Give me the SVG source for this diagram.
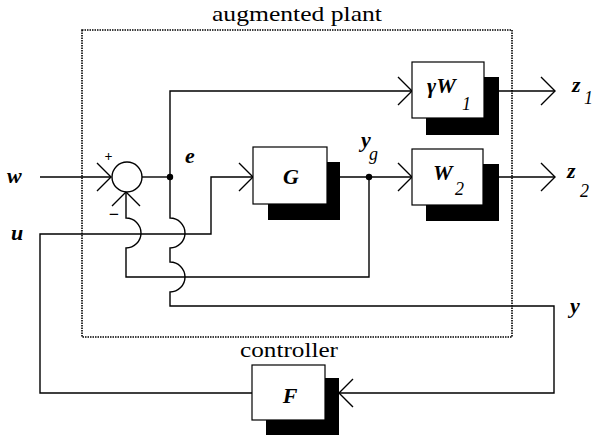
<svg xmlns="http://www.w3.org/2000/svg" width="593" height="439" viewBox="0 0 593 439">
<style>
  .ln{fill:none;stroke:#000;stroke-width:1.4}
  .box{fill:#fff;stroke:#000;stroke-width:1.2}
  .sh{fill:#000}
  text{font-family:'Liberation Serif','DejaVu Serif',serif;fill:#000}
  .lab{font-size:22px}
  .v{font-style:italic;font-weight:bold;font-size:22px}
  .sub{font-style:italic;font-size:18px}
</style>
<defs>
  <marker id="arr" viewBox="-16 -16 32 32" refX="0" refY="0" markerWidth="32" markerHeight="32" markerUnits="userSpaceOnUse" orient="auto" overflow="visible">
    <path d="M-14,-14 L0,0 L-14,14" fill="none" stroke="#000" stroke-width="1.4"/>
  </marker>
</defs>
<rect width="593" height="439" fill="#fff"/>

<g id="plant">
  <rect x="82" y="30" width="430" height="307" fill="none" stroke="#000" stroke-width="1.6" stroke-dasharray="1.5,1"/>
  <text class="lab" x="212" y="21" textLength="170" lengthAdjust="spacingAndGlyphs">augmented plant</text>
</g>

<g id="connectors">
  <path class="ln" d="M40,177 H111" marker-end="url(#arr)"/>
  <path class="ln" d="M142,177 H170"/>
  <path class="ln" d="M170,177 V91 H412" marker-end="url(#arr)"/>
  <path class="ln" d="M170,177 V218 a15,15 0 0 1 0,30 V262 a15,15 0 0 1 0,30 V306 H554 V393 H339" marker-end="url(#arr)"/>
  <path class="ln" d="M369,177 V277 H126 V248 a15,15 0 0 0 0,-30 V192" marker-end="url(#arr)"/>
  <path class="ln" d="M252,393 H40 V234 H211 V177 H253" marker-end="url(#arr)"/>
  <path class="ln" d="M340,177 H412" marker-end="url(#arr)"/>
  <path class="ln" d="M499,91 H555" marker-end="url(#arr)"/>
  <path class="ln" d="M499,177 H555" marker-end="url(#arr)"/>
  <circle cx="170" cy="177" r="3.2" fill="#000"/>
  <circle cx="369" cy="177" r="3.2" fill="#000"/>
</g>

<g id="sum">
  <circle cx="127" cy="177" r="15" fill="#fff" stroke="#000" stroke-width="1.4"/>
  <text x="108.5" y="161" text-anchor="middle" font-weight="bold" font-size="14">+</text>
  <text x="114" y="220" text-anchor="middle" font-weight="bold" font-size="18">−</text>
</g>

<g id="G">
  <rect class="sh" x="268" y="162" width="72" height="58"/>
  <rect class="box" x="253" y="147" width="74" height="57"/>
  <text class="v" x="291" y="184" text-anchor="middle" font-size="24">G</text>
</g>

<g id="W1">
  <rect class="sh" x="426" y="77" width="73" height="58"/>
  <rect class="box" x="412" y="62" width="72" height="56"/>
  <text class="v" x="427" y="93">γW</text>
  <text class="sub" x="462" y="110">1</text>
</g>

<g id="W2">
  <rect class="sh" x="426" y="164" width="73" height="57"/>
  <rect class="box" x="412" y="149" width="71" height="56"/>
  <text class="v" x="433" y="180">W</text>
  <text class="sub" x="455" y="195">2</text>
</g>

<g id="F">
  <rect class="sh" x="266" y="378" width="73" height="57"/>
  <rect class="box" x="252" y="365" width="73" height="55"/>
  <text class="v" x="290" y="403" text-anchor="middle">F</text>
  <text class="lab" x="240" y="357" textLength="98" lengthAdjust="spacingAndGlyphs">controller</text>
</g>

<g id="labels">
  <text class="v" x="7" y="183">w</text>
  <text class="v" x="11" y="240">u</text>
  <text class="v" x="185" y="163">e</text>
  <text class="v" x="361" y="147">y</text>
  <text class="sub" x="369" y="160">g</text>
  <text class="v" x="572" y="92">z</text>
  <text class="sub" x="584" y="104">1</text>
  <text class="v" x="567" y="178">z</text>
  <text class="sub" x="580" y="197">2</text>
  <text class="v" x="570" y="313">y</text>
</g>
</svg>
